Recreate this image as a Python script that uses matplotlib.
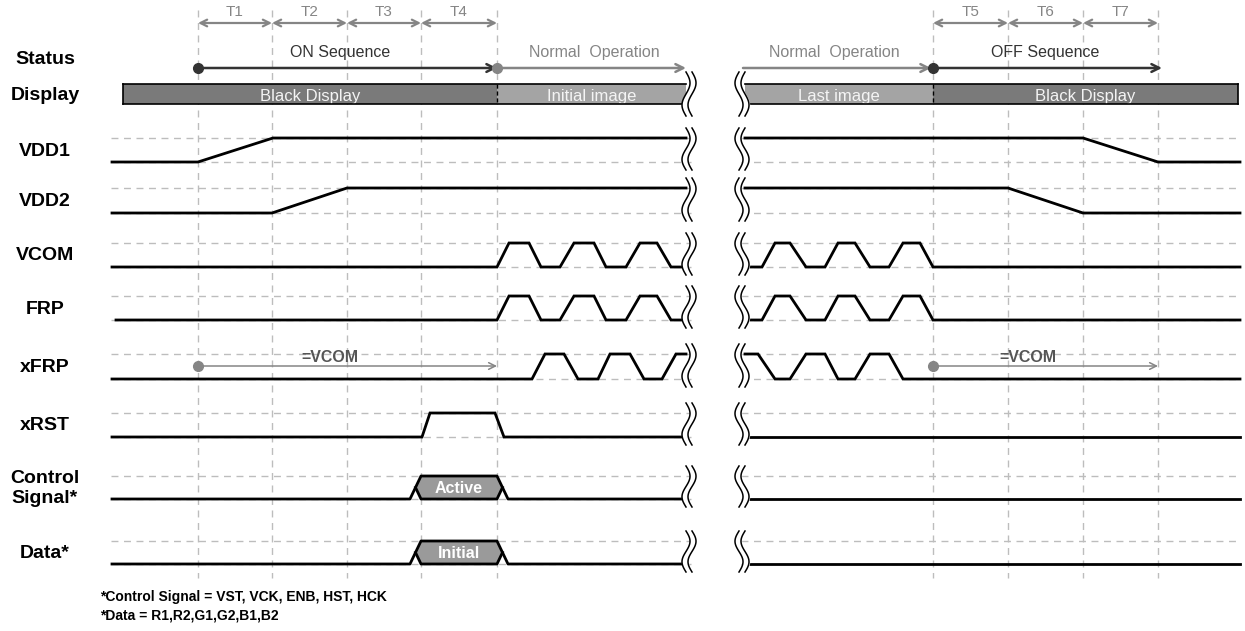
import numpy as np
import matplotlib.pyplot as plt
from matplotlib.patches import Polygon, Rectangle

plt.rcParams['font.family'] = ['Liberation Sans', 'DejaVu Sans']

W, H = 1245, 631
fig = plt.figure(figsize=(W / 100, H / 100), dpi=100)
ax = fig.add_axes([0, 0, 1, 1])
ax.set_xlim(0, W)
ax.set_ylim(H, 0)
ax.axis('off')

# timing marks
t_on = [198, 272, 347, 421, 497]
t_off = [933, 1008, 1083, 1158]
on_names = ['T1', 'T2', 'T3', 'T4']
off_names = ['T5', 'T6', 'T7']

# display states
disp_left = [(123, 497, 'Black Display', '#7a7a7a'), (497, 686, 'Initial image', '#a4a4a4')]
disp_right = [(745, 933, 'Last image', '#a4a4a4'), (933, 1238, 'Black Display', '#7a7a7a')]

# rows
row_names = ['VDD1', 'VDD2', 'VCOM', 'FRP', 'xFRP', 'xRST', 'Control\nSignal*', 'Data*']
row_hi = [138, 188, 243, 296, 354, 413, 476, 541]
row_lo = [162, 213, 267, 320, 379, 437, 499, 564]

# waveforms: breakpoints (time) and level (0 = low, 1 = high)
vdd1_l = ([112, 198, 273, 686], [0, 0, 1, 1])
vdd1_r = ([745, 1083, 1158, 1240], [1, 1, 0, 0])
vdd2_l = ([112, 272, 347, 686], [0, 0, 1, 1])
vdd2_r = ([745, 1008, 1083, 1240], [1, 1, 0, 0])
vcom_l = ([112, 497, 509, 529, 541, 560, 574, 594, 606, 626, 640, 657, 671, 686],
          [0, 0, 1, 1, 0, 0, 1, 1, 0, 0, 1, 1, 0, 0])
vcom_r = ([745, 762, 775, 790, 806, 825, 838, 855, 870, 889, 903, 920, 933, 1240],
          [0, 0, 1, 1, 0, 0, 1, 1, 0, 0, 1, 1, 0, 0])
frp_l = ([116] + vcom_l[0][1:], vcom_l[1])
frp_r = vcom_r
xfrp_l = ([112, 532, 545, 564, 578, 598, 610, 630, 644, 662, 676, 686],
          [0, 0, 1, 1, 0, 0, 1, 1, 0, 0, 1, 1])
xfrp_r = ([745, 758, 775, 790, 806, 825, 838, 855, 870, 889, 903, 1240],
          [1, 1, 0, 0, 1, 1, 0, 0, 1, 1, 0, 0])
xrst_l = ([112, 422, 430, 495, 504, 686], [0, 0, 1, 1, 0, 0])
flat_r = ([745, 1240], [0, 0])
waves = [(vdd1_l, vdd1_r), (vdd2_l, vdd2_r), (vcom_l, vcom_r), (frp_l, frp_r),
         (xfrp_l, xfrp_r), (xrst_l, flat_r)]

# bus rows (Control Signal, Data): valid window
bus_win = [410, 421, 497, 508]
bus_text = ['Active', 'Initial']

GRID = '#bdbdbd'
DARK = '#333333'
GRAY = '#858585'
brk_l, brk_r = 686, 741

# vertical timing lines
for x in t_on + t_off:
    ax.plot([x, x], [10, 578], color=GRID, lw=1, ls=(0, (5, 4)), zorder=1)

# T arrows
for names, ts in [(on_names, t_on), (off_names, t_off)]:
    for i, n in enumerate(names):
        ax.annotate('', xy=(ts[i], 23), xytext=(ts[i + 1], 23),
                    arrowprops=dict(arrowstyle='<->', color=GRAY, lw=1.6,
                                    shrinkA=0, shrinkB=0, mutation_scale=12))
        ax.text((ts[i] + ts[i + 1]) / 2, 12, n, color=GRAY, fontsize=11,
                ha='center', va='center')


def arrow(x0, x1, y, c, lw):
    ax.annotate('', xy=(x1, y), xytext=(x0, y),
                arrowprops=dict(arrowstyle='->', color=c, lw=lw,
                                shrinkA=0, shrinkB=0, mutation_scale=14))


# status row
arrow(198, 497, 68, DARK, 1.8)
arrow(497, 686, 68, GRAY, 1.8)
arrow(743, 931, 68, GRAY, 1.8)
arrow(933, 1162, 68, DARK, 1.8)
ax.plot([198], [68], 'o', color=DARK, ms=7, zorder=5)
ax.plot([497], [68], 'o', color=GRAY, ms=7, zorder=5)
ax.plot([933], [68], 'o', color=DARK, ms=7, zorder=5)
ax.text(340, 52, 'ON Sequence', color=DARK, fontsize=11.5, ha='center', va='center')
ax.text(594, 52, 'Normal  Operation', color=GRAY, fontsize=11.5, ha='center', va='center')
ax.text(834, 52, 'Normal  Operation', color=GRAY, fontsize=11.5, ha='center', va='center')
ax.text(1045, 52, 'OFF Sequence', color=DARK, fontsize=11.5, ha='center', va='center')

# display row
for x0, x1, txt, c in disp_left + disp_right:
    ax.add_patch(Rectangle((x0, 84), x1 - x0, 20, facecolor=c, edgecolor='none', zorder=2))
    ax.text((x0 + x1) / 2, 96, txt, color='#f4f4f4', fontsize=12,
            ha='center', va='center', zorder=3)
for x0, x1 in [(123, 686), (745, 1238)]:
    ax.plot([x0, x1], [84, 84], color='k', lw=1.2, zorder=3)
    ax.plot([x0, x1], [104, 104], color='k', lw=1.2, zorder=3)
ax.plot([123, 123], [84, 104], color='k', lw=1.2, zorder=3)
ax.plot([1238, 1238], [84, 104], color='k', lw=1.2, zorder=3)
for x in [497, 933]:
    ax.plot([x, x], [84, 104], color='k', lw=1, ls=(0, (3, 2)), zorder=3)

# row labels
ax.text(45, 60, 'Status', fontsize=14, fontweight='bold', ha='center', va='center')
ax.text(45, 96, 'Display', fontsize=14, fontweight='bold', ha='center', va='center')
for name, hi, lo in zip(row_names, row_hi, row_lo):
    ax.text(45, (hi + lo) / 2 + 1, name, fontsize=14, fontweight='bold',
            ha='center', va='center', linespacing=1.3)

# level guides
for hi, lo in zip(row_hi, row_lo):
    for y in (hi, lo):
        for x0, x1 in [(111, brk_l + 5), (brk_r, 1240)]:
            ax.plot([x0, x1], [y, y], color=GRID, lw=1, ls=(0, (5, 4)), zorder=1)


def level_y(lv, hi, lo):
    return lo - (lo - hi) * np.asarray(lv)


for (left, right), hi, lo in zip(waves, row_hi, row_lo):
    for xs, lv in (left, right):
        ax.plot(xs, level_y(lv, hi, lo), color='k', lw=2, zorder=4,
                solid_joinstyle='miter')

# bus rows
a, b, c, d = bus_win
for k, txt in enumerate(bus_text):
    hi, lo = row_hi[6 + k], row_lo[6 + k]
    mid = (hi + lo) / 2
    ma = (a + b) / 2
    mc = (c + d) / 2
    ax.add_patch(Polygon([(ma, mid), (b, hi), (c, hi), (mc, mid), (c, lo), (b, lo)],
                         closed=True, facecolor='#9a9a9a', edgecolor='none', zorder=3))
    ax.plot([112, a, b, c, d, brk_l], [lo, lo, hi, hi, lo, lo], color='k', lw=2, zorder=4)
    ax.plot([ma, b, c, mc], [mid, lo, lo, mid], color='k', lw=2, zorder=4)
    ax.plot([brk_r + 4, 1240], [lo, lo], color='k', lw=2, zorder=4)
    ax.text((b + c) / 2, mid + 1, txt, color='white', fontsize=11.5, fontweight='bold',
            ha='center', va='center', zorder=5)

# =VCOM notes
for x0, x1 in [(198, 497), (933, 1158)]:
    ax.annotate('', xy=(x1, 366), xytext=(x0, 366),
                arrowprops=dict(arrowstyle='->', color=GRAY, lw=1.1,
                                shrinkA=0, shrinkB=0, mutation_scale=12))
    ax.plot([x0], [366], 'o', color=GRAY, ms=7, zorder=5)
    ax.text((x0 + x1) / 2 - 18, 358, '=VCOM', color='#555555', fontsize=11.5,
            fontweight='bold', ha='center', va='center')


# break marks
def brk(x0, y0, y1, sgn):
    yy = np.linspace(y0, y1, 60)
    xx = x0 + sgn * 4 * np.sin(2 * np.pi * (yy - y0) / (y1 - y0))
    ax.fill_betweenx(yy, xx, xx + 6, color='white', zorder=6)
    ax.plot(xx, yy, color='k', lw=1.1, zorder=7)
    ax.plot(xx + 6, yy, color='k', lw=1.1, zorder=7)


brk(brk_l, 72, 116, 1)
brk(brk_r - 2, 72, 116, -1)
for hi, lo in zip(row_hi, row_lo):
    brk(brk_l, hi - 10, lo + 8, 1)
    brk(brk_r - 2, hi - 10, lo + 8, -1)

# footnotes
ax.text(100, 597, '*Control Signal = VST, VCK, ENB, HST, HCK', fontsize=10,
        fontweight='bold', va='center')
ax.text(100, 615, '*Data = R1,R2,G1,G2,B1,B2', fontsize=10, fontweight='bold', va='center')

fig.savefig('out.png', dpi=100)
